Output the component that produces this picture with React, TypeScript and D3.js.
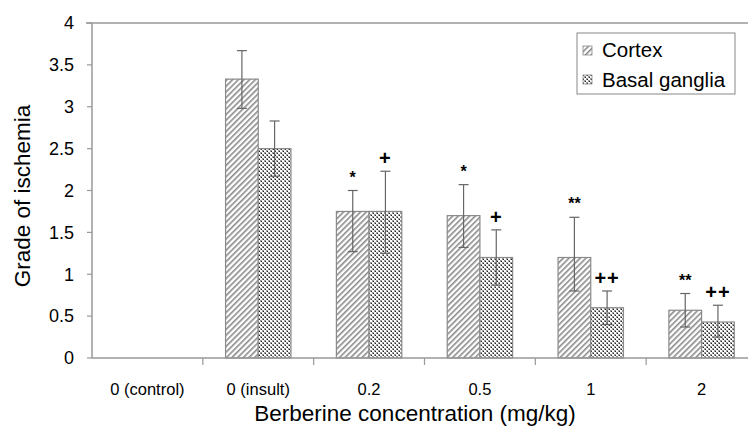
import React from "react";
import * as d3 from "d3";

const categories = ["0 (control)", "0 (insult)", "0.2", "0.5", "1", "2"];
const cortex = [0, 3.33, 1.75, 1.7, 1.2, 0.57];
const cortexHi = [0, 3.67, 2.0, 2.07, 1.68, 0.77];
const cortexLo = [0, 2.98, 1.27, 1.32, 0.8, 0.37];
const basal = [0, 2.5, 1.75, 1.2, 0.6, 0.43];
const basalHi = [0, 2.83, 2.23, 1.53, 0.8, 0.63];
const basalLo = [0, 2.17, 1.25, 0.87, 0.4, 0.25];
const cortexMarks = ["", "", "*", "*", "**", "**"];
const basalMarks = ["", "", "+", "+", "++", "++"];
const yTicks = [0, 0.5, 1, 1.5, 2, 2.5, 3, 3.5, 4];
const seriesNames = ["Cortex", "Basal ganglia"];

const W = 748, H = 429;
const left = 92, right = 757, top = 23, bottom = 358;
const font = "'Liberation Sans', Arial, sans-serif";

export default function App() {
  const x = d3.scaleBand<string>().domain(categories).range([left, right]).padding(0);
  const y = d3.scaleLinear().domain([0, 4]).range([bottom, top]);
  const bw = x.bandwidth() * 0.295;
  const series = [
    { v: cortex, hi: cortexHi, lo: cortexLo, fill: "url(#diag)", marks: cortexMarks, off: -bw },
    { v: basal, hi: basalHi, lo: basalLo, fill: "url(#check)", marks: basalMarks, off: 0 },
  ];
  return (
    <svg width={W} height={H} style={{ position: "absolute", left: 0, top: 0, background: "#fff" }} fontFamily={font}>
      <defs>
        <pattern id="diag" width="4" height="4" patternUnits="userSpaceOnUse" patternTransform="rotate(45)">
          <rect width="4" height="4" fill="#fff" />
          <rect width="1.6" height="4" fill="#8a8a8a" />
        </pattern>
        <pattern id="check" width="4" height="4" patternUnits="userSpaceOnUse">
          <rect width="4" height="4" fill="#fff" />
          <rect x="0" y="0" width="2" height="2" fill="#9a9a9a" />
          <rect x="2" y="2" width="2" height="2" fill="#9a9a9a" />
          <rect x="1" y="1" width="1" height="1" fill="#222" />
          <rect x="3" y="3" width="1" height="1" fill="#222" />
        </pattern>
      </defs>
      <line x1={left - 6} x2={W} y1={y(4)} y2={y(4)} stroke="#999" strokeWidth={1.5} />
      {series.map((s, si) =>
        categories.map((c, i) => {
          const cx = (x(c) as number) + x.bandwidth() / 2;
          if (s.v[i] <= 0) return null;
          const bx = cx + s.off;
          return (
            <rect key={`${si}-${i}`} x={bx} y={y(s.v[i])} width={bw} height={y(0) - y(s.v[i])} fill={s.fill} stroke="#8a8a8a" strokeWidth={1.2} />
          );
        })
      )}
      {series.map((s, si) =>
        categories.map((c, i) => {
          const cx = (x(c) as number) + x.bandwidth() / 2;
          if (s.v[i] <= 0) return null;
          const ex = cx + s.off + bw / 2;
          const isPlus = s.marks[i].startsWith("+");
          return (
            <g key={`e${si}-${i}`}>
              <line x1={ex} x2={ex} y1={y(s.hi[i])} y2={y(s.lo[i])} stroke="#666" strokeWidth={1.2} />
              <line x1={ex - 5} x2={ex + 5} y1={y(s.hi[i])} y2={y(s.hi[i])} stroke="#666" strokeWidth={1.2} />
              <line x1={ex - 5} x2={ex + 5} y1={y(s.lo[i])} y2={y(s.lo[i])} stroke="#666" strokeWidth={1.2} />
              {s.marks[i] && (
                <text x={ex} y={y(s.hi[i]) - (isPlus ? 6 : 8)} textAnchor="middle" fontWeight="bold"
                  fontSize={isPlus ? 20 : 16} fill="#000" letterSpacing={isPlus ? 1 : 0}>
                  {s.marks[i]}
                </text>
              )}
            </g>
          );
        })
      )}
      <line x1={left} x2={left} y1={top} y2={bottom} stroke="#999" strokeWidth={1.5} />
      <line x1={left} x2={W} y1={bottom} y2={bottom} stroke="#999" strokeWidth={1.5} />
      {yTicks.map((t) => (
        <g key={t}>
          <line x1={left - 5} x2={left} y1={y(t)} y2={y(t)} stroke="#999" strokeWidth={1.2} />
          <text x={74} y={y(t)} dy="0.35em" textAnchor="end" fontSize={18} fill="#000">{t}</text>
        </g>
      ))}
      {categories.map((c, i) => (
        <g key={c}>
          {i > 0 && <line x1={x(c)} x2={x(c)} y1={bottom} y2={bottom + 7} stroke="#999" strokeWidth={1.2} />}
          <text x={(x(c) as number) + x.bandwidth() / 2} y={389} dy="0.35em" textAnchor="middle" fontSize={16.5} fill="#000">{c}</text>
        </g>
      ))}
      <text x={415} y={421} textAnchor="middle" fontSize={22.5} fill="#000">Berberine concentration (mg/kg)</text>
      <text transform={`translate(30,196) rotate(-90)`} textAnchor="middle" fontSize={22.5} fill="#000">Grade of ischemia</text>
      <rect x={577} y={33} width={158} height={61} fill="#fff" stroke="#888" strokeWidth={1} />
      {seriesNames.map((n, i) => (
        <g key={n}>
          <rect x={583} y={46 + i * 29} width={9} height={9} fill={i === 0 ? "url(#diag)" : "url(#check)"} stroke="#888" strokeWidth={0.8} />
          <text x={602} y={57 + i * 30} fontSize={20.5} fill="#000">{n}</text>
        </g>
      ))}
    </svg>
  );
}
